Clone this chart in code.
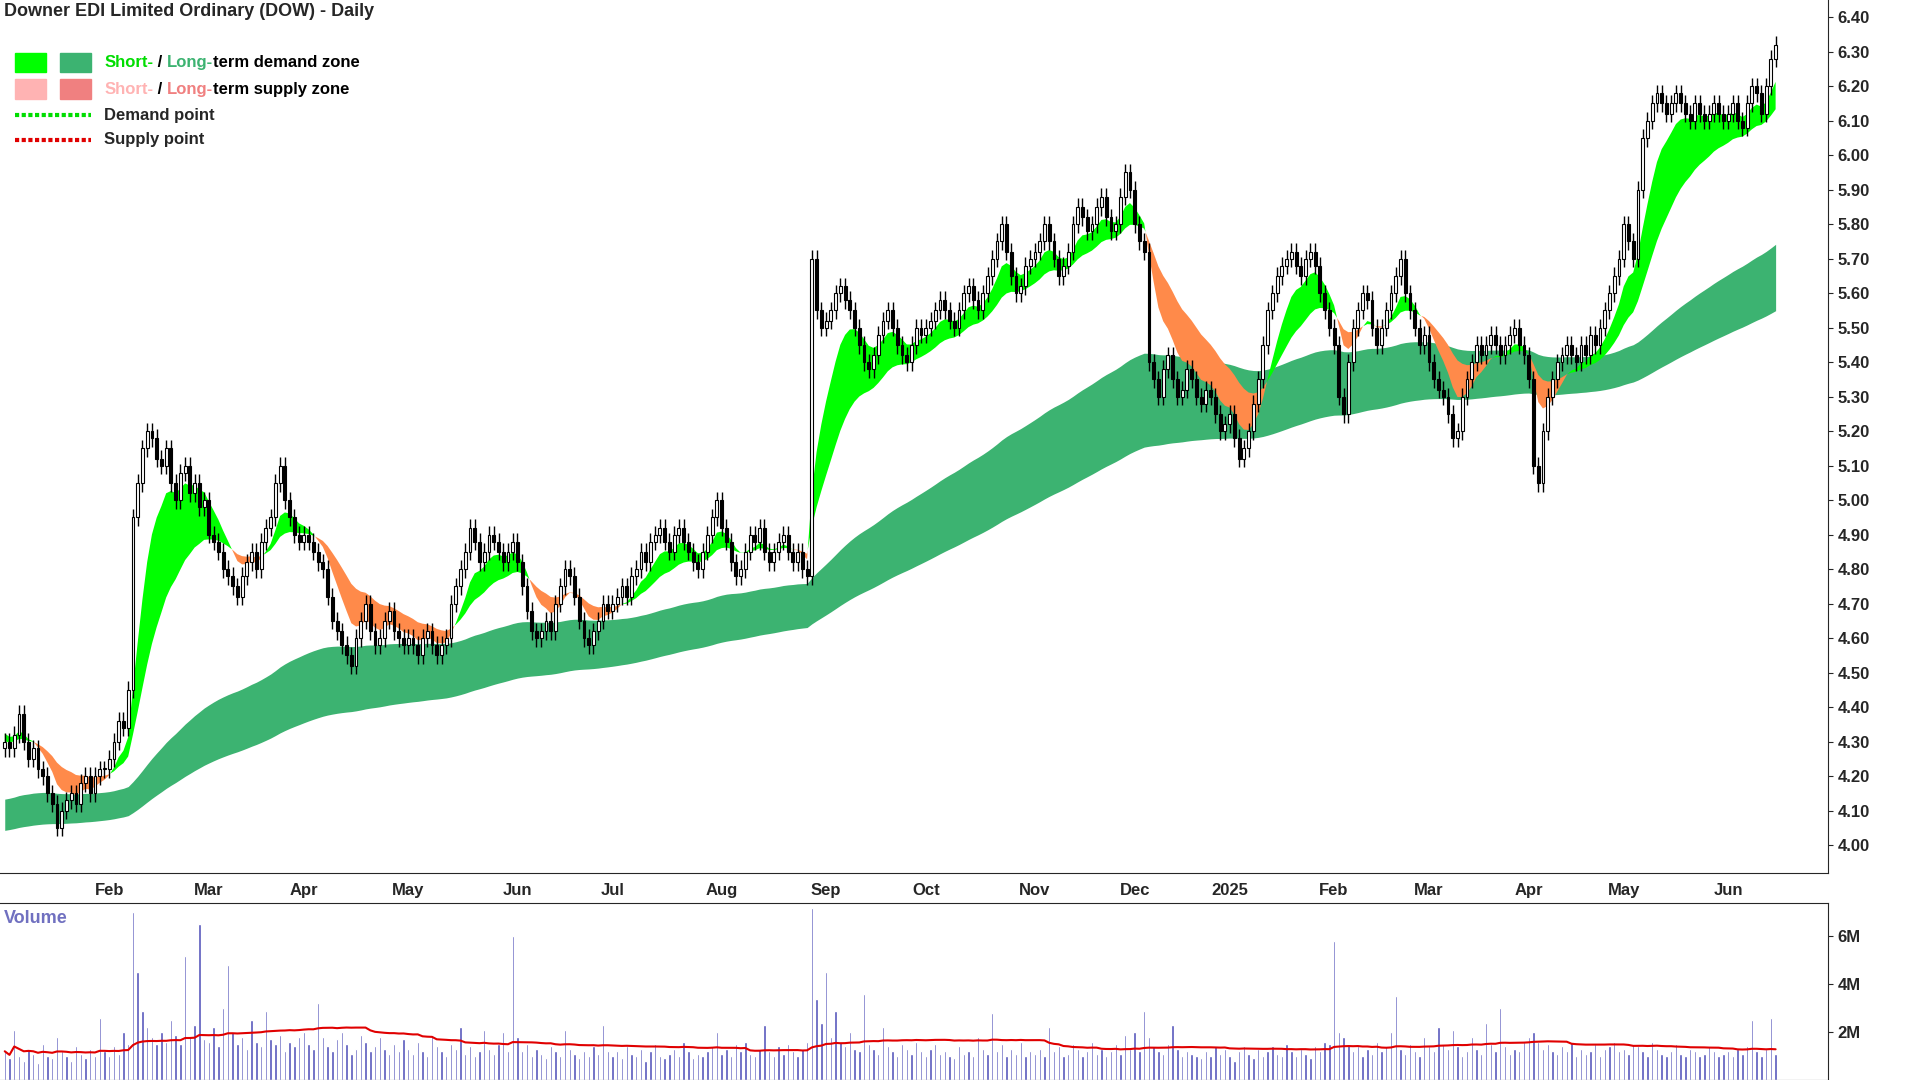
import numpy as np, pandas as pd, matplotlib
matplotlib.use("Agg")
import matplotlib.pyplot as plt, seaborn as sns
from matplotlib.patches import Rectangle

sns.set_style("white")
plt.rcParams["font.family"] = "Liberation Sans"

month_labels = ["", "Feb", "Mar", "Apr", "May", "Jun", "Jul", "Aug", "Sep", "Oct", "Nov", "Dec",
                "2025", "Feb", "Mar", "Apr", "May", "Jun"]
closes_by_month = [
 [4.3,4.28,4.32,4.38,4.3,4.25,4.28,4.22,4.2,4.15,4.12,4.05,4.1,4.13,4.15,4.12,4.18,4.2,4.15,4.2,4.22,4.22],
 [4.25,4.3,4.36,4.34,4.45,4.95,5.05,5.15,5.2,5.18,5.12,5.1,5.15,5.05,5.0,5.08,5.1,5.02,5.05,4.98,5.0],
 [4.9,4.88,4.85,4.8,4.78,4.75,4.72,4.78,4.82,4.85,4.8,4.88,4.92,4.95,5.05,5.1,5.0,4.95,4.9,4.88],
 [4.9,4.88,4.85,4.82,4.8,4.72,4.65,4.62,4.58,4.55,4.52,4.6,4.65,4.7,4.62,4.58,4.6,4.65,4.68,4.62,4.6,4.58],
 [4.6,4.58,4.55,4.6,4.62,4.58,4.55,4.58,4.6,4.7,4.75,4.8,4.85,4.92,4.88,4.82,4.85,4.9,4.88,4.85,4.82,4.85,4.88],
 [4.82,4.75,4.68,4.62,4.6,4.62,4.65,4.62,4.7,4.75,4.8,4.78,4.72,4.65,4.6,4.58,4.62,4.65,4.7,4.68],
 [4.7,4.72,4.75,4.72,4.78,4.8,4.85,4.82,4.88,4.9,4.92,4.88,4.85,4.9,4.92,4.88,4.85,4.82,4.8,4.85,4.9,4.95,5.0],
 [4.92,4.88,4.82,4.78,4.8,4.85,4.9,4.88,4.92,4.85,4.82,4.85,4.88,4.9,4.85,4.82,4.85,4.8,4.78,5.7,5.55,5.5],
 [5.52,5.55,5.6,5.62,5.58,5.55,5.5,5.45,5.4,5.38,5.42,5.48,5.52,5.55,5.5,5.45,5.42,5.4,5.45,5.5,5.48],
 [5.5,5.52,5.55,5.58,5.55,5.52,5.5,5.55,5.6,5.62,5.58,5.55,5.6,5.65,5.7,5.75,5.8,5.72,5.65,5.6,5.62,5.68,5.7],
 [5.72,5.75,5.8,5.75,5.7,5.65,5.68,5.72,5.8,5.85,5.82,5.78,5.8,5.85,5.88,5.82,5.78,5.8,5.88,5.95,5.9],
 [5.8,5.75,5.72,5.4,5.35,5.3,5.38,5.42,5.35,5.3,5.32,5.38,5.35,5.3,5.28,5.32,5.3,5.25,5.2,5.22],
 [5.25,5.18,5.12,5.15,5.2,5.28,5.35,5.45,5.55,5.6,5.65,5.68,5.7,5.72,5.68,5.65,5.7,5.72,5.68,5.6,5.55,5.5],
 [5.45,5.3,5.25,5.4,5.5,5.55,5.6,5.58,5.5,5.45,5.5,5.55,5.6,5.65,5.7,5.6,5.55,5.5,5.45,5.48],
 [5.4,5.35,5.32,5.3,5.25,5.18,5.2,5.3,5.35,5.4,5.45,5.42,5.45,5.48,5.45,5.42,5.45,5.48,5.5,5.45,5.42],
 [5.35,5.1,5.05,5.2,5.3,5.35,5.4,5.42,5.45,5.42,5.4,5.45,5.42,5.48,5.45,5.5,5.55,5.6,5.65,5.7],
 [5.8,5.75,5.7,5.9,6.05,6.1,6.15,6.18,6.15,6.12,6.15,6.18,6.15,6.12,6.1,6.15,6.12,6.1,6.12,6.15,6.12,6.1],
 [6.12,6.15,6.1,6.08,6.15,6.2,6.18,6.12,6.2,6.28,6.32],
]
# volume in millions, per month
volume_by_month = [
 [1.2,0.9,2.1,1.0,0.8,1.3,1.1,0.7,1.5,1.0,0.9,1.8,1.2,1.0,0.8,1.4,1.1,0.9,1.3,1.0,2.6,1.2],
 [1.0,1.4,1.1,2.0,1.5,7.0,4.5,2.9,2.2,1.8,1.5,2.0,1.6,2.5,1.9,1.5,5.2,1.8,2.3,6.5,1.7],
 [1.6,2.2,1.4,3.0,4.8,2.0,1.5,1.8,1.3,2.5,1.6,1.4,2.9,1.7,1.5,1.9,1.2,1.6,1.4,1.8],
 [2.0,1.5,1.3,3.2,1.8,1.4,1.2,1.7,2.0,1.5,1.1,1.3,1.9,1.6,1.2,1.4,1.8,1.3,1.1,1.5,1.2,1.7],
 [1.3,1.1,1.6,1.2,1.0,1.9,1.4,1.2,1.0,1.5,1.3,2.2,1.1,1.4,1.0,1.2,2.1,1.3,1.1,1.5,2.0,1.2,6.0],
 [1.8,1.2,1.5,1.0,1.3,1.1,0.9,1.4,1.2,1.0,2.1,1.3,1.1,0.9,1.2,1.0,1.4,1.1,2.3,1.2],
 [1.0,1.2,0.9,1.4,1.1,1.0,1.3,0.8,1.2,1.5,1.0,0.9,1.1,1.3,1.0,1.6,1.2,0.9,1.1,1.0,1.2,1.4,2.0],
 [1.1,1.3,1.0,1.5,1.2,1.6,1.1,1.0,1.3,2.3,1.2,1.0,1.4,1.1,1.5,1.2,1.0,1.3,1.6,7.2,3.4,2.4],
 [4.5,1.8,2.9,1.6,1.4,2.0,1.3,1.2,3.6,1.5,1.3,1.1,2.2,1.4,1.2,1.0,1.5,1.3,1.1,1.6,1.2],
 [1.0,1.3,1.5,1.1,1.2,1.0,0.9,1.4,1.1,1.2,1.0,1.8,1.3,1.1,2.8,1.2,1.5,1.0,1.3,1.1,1.6,1.0,1.2],
 [1.1,1.3,1.0,2.2,1.2,1.4,1.0,1.1,1.5,1.3,1.0,1.2,1.6,1.1,1.3,1.0,1.2,1.5,1.1,1.9,1.3],
 [2.0,1.2,2.9,1.8,1.4,1.2,1.1,1.5,2.3,1.3,1.0,1.2,1.1,1.0,0.9,1.2,1.0,1.4,1.1,1.3],
 [1.0,0.8,1.2,1.4,1.1,0.9,1.3,1.0,1.2,1.4,1.1,1.0,1.5,1.2,1.0,1.3,1.1,0.9,1.4,1.2,1.6,1.5],
 [5.8,2.0,1.8,1.5,1.2,1.4,1.0,1.3,1.1,1.6,1.2,1.4,2.0,3.5,1.3,1.1,1.5,1.2,1.0,1.8],
 [1.4,1.2,2.2,1.5,1.3,2.1,1.4,1.0,1.2,1.8,1.3,1.1,2.4,1.5,1.2,3.0,1.4,1.1,1.3,1.2,1.6],
 [1.8,2.0,1.6,1.3,1.5,1.2,1.1,1.4,1.2,1.6,1.0,1.3,1.1,1.2,1.5,1.0,1.3,1.4,1.6,1.2],
 [1.3,1.1,1.5,1.4,1.2,1.0,1.6,1.3,1.1,1.0,1.2,1.5,1.1,1.0,1.3,1.2,1.0,1.1,1.4,1.2,1.0,1.1],
 [1.2,1.0,1.3,1.1,1.4,2.5,1.2,1.0,1.3,2.6,1.1],
]
price_ticks = [4.00,4.10,4.20,4.30,4.40,4.50,4.60,4.70,4.80,4.90,5.00,5.10,5.20,5.30,5.40,5.50,5.60,5.70,5.80,5.90,6.00,6.10,6.20,6.30,6.40]
short_seed = (4.33, 4.30)   # EMA values carried in from before the window
long_seed = (4.13, 4.04)

close = np.array([c for m in closes_by_month for c in m])
vol = np.array([v for m in volume_by_month for v in m]) * 1e6
n = len(close)
x = np.arange(n)
opn = np.r_[close[0] - 0.02, close[:-1]]
hi = np.maximum(opn, close) + 0.025
lo = np.minimum(opn, close) - 0.025

def ema(vals, span, seed):
    a = 2 / (span + 1); out = []; e = seed
    for v in vals:
        e = e + a * (v - e); out.append(e)
    return np.array(out)

s_f, s_s = ema(close, 8, short_seed[0]), ema(close, 21, short_seed[1])
l_f, l_s = ema(close, 110, long_seed[0]), ema(close, 200, long_seed[1])

fig = plt.figure(figsize=(19.2, 10.8), dpi=100)
ax = fig.add_axes([0.0, 0.192, 0.952, 0.808])
axv = fig.add_axes([0.0, 0.0, 0.952, 0.164])

up_l = l_f >= l_s
ax.fill_between(x, l_f, l_s, where=up_l, color="#3CB371", lw=0, interpolate=True)
ax.fill_between(x, l_f, l_s, where=~up_l, color="#FF6A1A", lw=0, interpolate=True)
up_s = s_f >= s_s
ax.fill_between(x, s_f, s_s, where=up_s, color="#00FF00", lw=0, interpolate=True)
ax.fill_between(x, s_f, s_s, where=~up_s, color="#FF8A4A", lw=0, interpolate=True)

ax.vlines(x, lo, hi, color="black", lw=1)
for i in range(n):
    b0, b1 = sorted((opn[i], close[i]))
    fc = "white" if close[i] >= opn[i] else "black"
    ax.add_patch(Rectangle((i - 0.3, b0), 0.6, max(b1 - b0, 0.004), fc=fc, ec="black", lw=0.8, zorder=3))

month_starts = np.cumsum([0] + [len(m) for m in closes_by_month[:-1]])
for a in (ax, axv):
    a.set_xlim(-1, n + 10)
    a.set_xticks(month_starts[1:])
    a.tick_params(axis="x", length=4, labelsize=12)
    a.yaxis.tick_right()
    a.spines["left"].set_visible(False)
ax.spines["top"].set_visible(False)
ax.set_xticklabels(month_labels[1:], fontweight="bold")
axv.set_xticklabels([])
ax.set_ylim(3.92, 6.45)
ax.set_yticks(price_ticks)
ax.set_yticklabels([f"{t:.2f}" for t in price_ticks], fontweight="bold", fontsize=12)

df = pd.DataFrame({"x": x, "vol": vol, "ma": pd.Series(vol).rolling(50, min_periods=1).mean()})
axv.bar(df["x"], df["vol"], width=0.5, color="#5555BB")
sns.lineplot(data=df, x="x", y="ma", ax=axv, color="#E00000", lw=1.5)
axv.set_ylim(0, 7.4e6)
axv.set_yticks([2e6, 4e6, 6e6])
axv.set_yticklabels(["2M", "4M", "6M"], fontweight="bold", fontsize=12)
axv.set_xlabel(""); axv.set_ylabel("")
axv.text(0.002, 0.96, "Volume", transform=axv.transAxes, color="#7070C0", fontsize=13, fontweight="bold", va="top")

ax.text(0.002, 0.997, "Downer EDI Limited Ordinary (DOW) - Daily", transform=ax.transAxes, fontsize=13, fontweight="bold", va="top")
rows = [(0.928, "#00FF00", "#3CB371", ["Short-", " / ", "Long-", "term demand zone"], ["#00DD00", "black", "#3CB371", "black"]),
        (0.898, "#FFB3B3", "#F08080", ["Short-", " / ", "Long-", "term supply zone"], ["#FFB3B3", "black", "#F08080", "black"])]
for y, c1, c2, parts, cols in rows:
    ax.add_patch(Rectangle((0.008, y - 0.011), 0.017, 0.022, transform=ax.transAxes, color=c1))
    ax.add_patch(Rectangle((0.033, y - 0.011), 0.017, 0.022, transform=ax.transAxes, color=c2))
    t = ax.text(0.057, y, parts[0], transform=ax.transAxes, color=cols[0], fontsize=12, fontweight="bold", va="center")
    for p, c in zip(parts[1:], cols[1:]):
        t = ax.annotate(p, xycoords=t, xy=(1, 0), va="bottom", color=c, fontsize=12, fontweight="bold")
for y, c, lab in [(0.868, "#00DD00", "Demand point"), (0.840, "#E00000", "Supply point")]:
    ax.plot([0.008, 0.05], [y, y], transform=ax.transAxes, color=c, lw=3, ls=(0, (1, 0.6)))
    ax.text(0.057, y, lab, transform=ax.transAxes, fontsize=12, fontweight="bold", va="center")

fig.savefig("out.png", dpi=100)
